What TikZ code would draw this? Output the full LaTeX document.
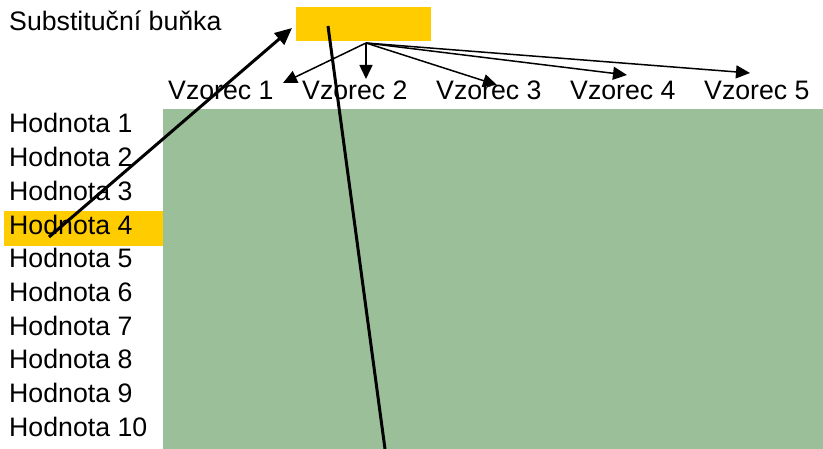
\documentclass[tikz,border=0pt]{standalone}
\usepackage{fontspec}
\setmainfont{Liberation Sans}
\usetikzlibrary{arrows.meta}
\definecolor{cellyellow}{RGB}{255,204,0}
\definecolor{cellgreen}{RGB}{155,192,153}
\begin{document}
\begin{tikzpicture}[x=1pt,y=-1pt,
  lbl/.style={anchor=base west,inner sep=0pt,font=\fontsize{26.7}{30}\selectfont},
  thinarrow/.style={line width=1.5pt,-{Triangle[length=14pt,width=13pt]}},
  thickarrow/.style={line width=3pt,-{Triangle[length=17pt,width=15pt]}},
  thickline/.style={line width=3pt}]
\useasboundingbox (0,0) rectangle (823,449);
% cells
\fill[cellgreen] (163,109) rectangle (823,449);
\fill[cellyellow] (4,211) rectangle (163,246);
\node[fill=cellyellow,minimum width=135pt,minimum height=34pt,inner sep=0pt,anchor=north west] (sub) at (296,7) {};
% labels
\node[lbl] (subl) at (9,31) {Substituční buňka};
\foreach \i in {1,...,10}{
  \node[lbl] (h\i) at (9,{133+(\i-1)*33.67}) {Hodnota \i};
}
\foreach \i in {1,...,5}{
  \node[lbl] (v\i) at ({168+(\i-1)*134},100) {Vzorec \i};
}
% coordinates
\coordinate (src) at (366,43);
\coordinate (t1) at (283,83);
\coordinate (t2) at (366,79);
\coordinate (t3) at (497,85);
\coordinate (t4) at (627,75);
\coordinate (t5) at (750,73);
\coordinate (hstart) at (49,237);
\coordinate (subtip) at (292,28);
\coordinate (lstart) at (328,26);
\coordinate (lend) at (385,449);
% arrows
\foreach \i in {1,...,5}{
  \draw[thinarrow] (src) -- (t\i);
}
\draw[thickarrow] (hstart) -- (subtip);
\draw[thickline] (lstart) -- (lend);
\end{tikzpicture}
\end{document}
